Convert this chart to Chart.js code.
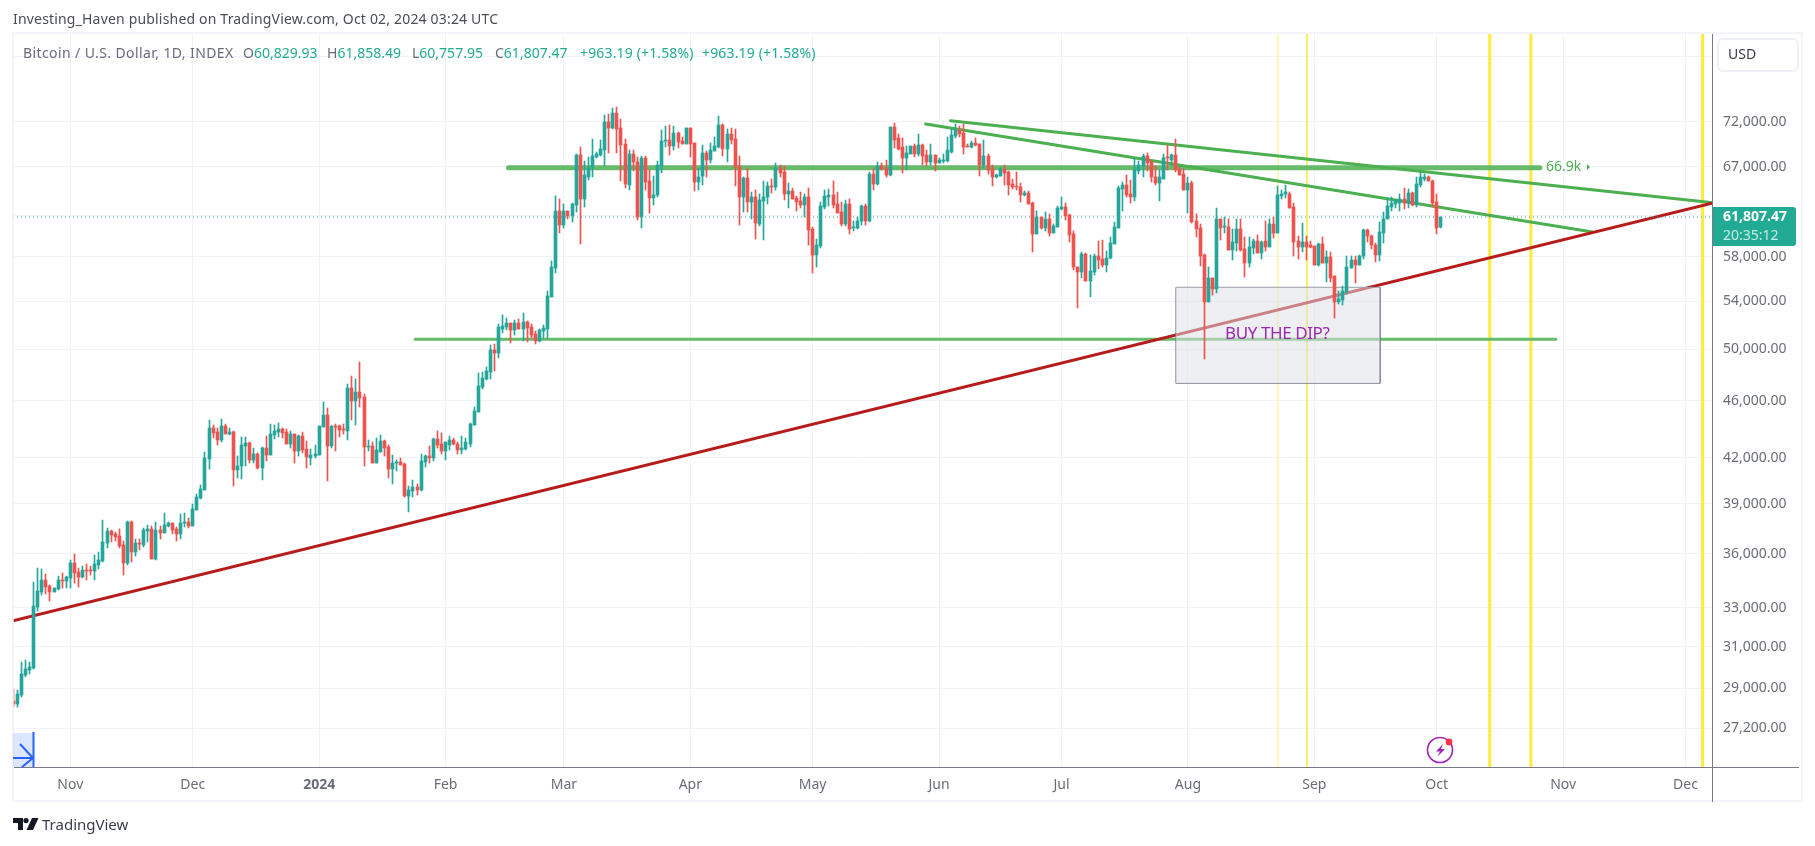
<!DOCTYPE html>
<html><head><meta charset="utf-8">
<script src="https://cdn.jsdelivr.net/npm/chart.js@4"></script>
<style>
html,body{margin:0;padding:0;background:#fff;width:1815px;height:846px;overflow:hidden}
body{font-family:"Noto Sans",sans-serif;position:relative}
canvas{position:absolute;left:0;top:0}
.t{position:absolute;white-space:nowrap;line-height:1}
.box{position:absolute}
svg{position:absolute;overflow:visible}
</style></head><body>
<canvas id="c" width="1815" height="846"></canvas>
<div class="box" style="left:12px;top:32px;width:1787px;height:766px;border:2px solid rgba(240,243,250,.8)"></div>
<div class="box" style="left:1712px;top:34px;width:1px;height:768px;background:#787b86"></div>
<div class="box" style="left:14px;top:767px;width:1785px;height:1px;background:#787b86"></div>

<div class="t" style="left:13px;top:12px;font-size:14px;letter-spacing:.18px;color:#4a4d58" id="title">Investing_Haven published on TradingView.com, Oct 02, 2024 03:24 UTC</div>
<div class="t" style="left:23px;top:46px;font-size:14px;letter-spacing:.4px;color:#6a6d78">Bitcoin / U.S. Dollar, 1D, INDEX</div>
<div class="t hl" style="left:243px;top:46px;font-size:14px;color:#6a6d78">O<span style="color:#22ab94">60,829.93</span></div>
<div class="t hl" style="left:327px;top:46px;font-size:14px;color:#6a6d78">H<span style="color:#22ab94">61,858.49</span></div>
<div class="t hl" style="left:412px;top:46px;font-size:14px;color:#6a6d78">L<span style="color:#22ab94">60,757.95</span></div>
<div class="t hl" style="left:495px;top:46px;font-size:14px;color:#6a6d78">C<span style="color:#22ab94">61,807.47</span></div>
<div class="t hl" style="left:580px;top:46px;font-size:14px;letter-spacing:.15px;color:#22ab94">+963.19 (+1.58%)</div>
<div class="t hl" style="left:702px;top:46px;font-size:14px;letter-spacing:.15px;color:#22ab94">+963.19 (+1.58%)</div>

<div class="box" style="left:1717px;top:38px;width:78px;height:30px;border:2px solid #eef0f5;border-radius:6px;background:#fff"></div>
<div class="t" style="left:1728px;top:47px;font-size:14px;color:#3a3d48">USD</div>

<div class="box" style="left:1713px;top:207px;width:83px;height:39px;background:#22ab94;border-radius:0 3px 3px 0"></div>
<div class="t" style="left:1723px;top:209px;font-size:14px;font-weight:700;color:#fff">61,807.47</div>
<div class="t" style="left:1723px;top:228px;font-size:14px;color:#c5ebe4">20:35:12</div>

<div class="t" style="left:1546px;top:159px;font-size:14px;color:#4caf50">66.9k</div>
<svg style="left:1587px;top:164px" width="4" height="6"><path d="M0 0L3 3L0 6Z" fill="#4caf50"/></svg>
<div class="t" style="left:1225px;top:324px;font-size:17px;letter-spacing:-.4px;color:#9c27b0">BUY THE DIP?</div>

<svg style="left:13px;top:733px" width="21" height="34">
<rect x="0" y="0" width="20" height="34" fill="#2962ff" fill-opacity=".16"/>
<path d="M20.5 -1V34M0 25H20M7 11L20 25L9 34" stroke="#2962ff" stroke-width="2" fill="none"/>
</svg>
<svg style="left:1427px;top:737px" width="27" height="27">
<circle cx="13" cy="13" r="12.5" fill="#fff" stroke="#9c27b0" stroke-width="1.6"/>
<path d="M16 7L9 14.5H13L10.5 19.5L18 12H14Z" fill="#9c27b0"/>
<circle cx="22" cy="5" r="3.4" fill="#f23645"/>
</svg>
<svg style="left:13px;top:818px" width="26" height="13">
<path d="M0 0H10V12H5V5H0Z" fill="#131722"/><circle cx="13" cy="2.6" r="2.6" fill="#131722"/><path d="M19 0H25.5L20 12H13.5Z" fill="#131722"/>
</svg>
<div class="t" style="left:42px;top:817px;font-size:15px;color:#3a3d48">TradingView</div>

<script>
// ---------- values ----------
const firstDay = -75; // days relative to 1 Jan 2024 (18 Oct 2023)
const opens = [
28410,28275,28700,29620,29860,29955,33050,33845,34505,34175,
33845,34010,34505,34450,34615,35460,34950,34670,35064,35064,
35010,35350,35575,36620,37330,37150,37030,36500,35460,37875,
36090,36620,36500,37330,37450,35690,37390,37210,37630,37810,
37450,37150,37810,37875,37630,38610,39360,39870,41905,44045,
43765,43205,44190,43625,43765,41175,41440,42795,43000,41840,
42250,41305,42655,42180,43555,43765,43975,43765,42930,43625,
42450,43485,42585,41975,42110,42180,44120,44975,42790,44190,
44190,43975,43835,46950,46000,46650,46270,42720,42790,41640,
42380,43135,42720,41240,41640,41710,41575,39490,39810,40065,
39890,41730,42130,41995,43300,42950,
42470,42880,43220,42950,42540,42610,42950,44290,45220,47025,47680,48215,49950,49710,51660,51830,52160,51580,52160,51660,52245,51830,51245,50680,51500,51660,54390,56980,62445,
61050,62445,61950,63050,68320,63660,65880,67030,68100,68320,68830,72040,71340,73090,71340,69480,65070,68430,67560,61845,67900,65525,63760,64070,67120,69870,69980,69325,70780,69870,69480,
71340,69650,65420,65985,68540,67770,68760,69210,71690,68980,70670,70100,67120,63870,65850,63350,63870,61155,63450,63870,65000,64895,66900,66480,64180,64480,63760,63450,63050,63870,
60660,58180,59040,62850,63870,64070,63150,62345,61155,63150,60760,60760,61450,62950,61450,66260,65210,67120,66900,66160,71460,70220,69210,67900,68430,69325,68430,69400,68320,67560,68320,
67450,67660,67660,68650,70450,71120,70780,69325,69210,69650,69480,67220,68210,66800,65880,66060,66800,66480,65210,65000,64895,64070,64280,63250,60180,61845,60760,61645,60275,60860,
62650,62850,62040,60180,57070,56620,58280,55800,56620,58090,57810,57250,57910,59220,60760,64690,65070,64180,63870,66590,67120,68210,67560,65880,65320,65730,68000,67770,68320,66800,66260,
64590,65320,61450,60760,58180,53950,56070,55080,61645,60860,60860,58650,59320,60660,58750,57440,58850,59510,58370,59510,58940,61155,60275,63970,64180,64180,62850,59510,58940,59410,59130,
59040,57250,59220,57440,58000,56250,53950,54110,54820,56980,57720,57250,58090,60565,60000,59130,58180,60275,61645,62850,63150,63250,63660,63250,64280,63050,65070,65730,65880,65525,
63350,60829.93];
const highs = [
28960,28917,30250,30345,30250,34395,35175,35120,34840,34230,
34065,34730,34895,34730,35630,35975,35175,35290,35405,35290,
35920,36090,37997,37510,37390,37270,37450,36735,37935,37935,
36855,36855,37510,37690,37630,37875,37630,38425,37875,37810,
37570,38365,38425,38120,38990,39620,40195,42380,44615,44260,
44045,44690,44330,44045,43835,42110,43415,43415,43070,42655,
42315,42720,43485,44330,44260,44405,44045,43975,43835,43625,
43555,43765,43135,42585,42860,44190,45925,45485,44190,44330,
44260,44330,47240,47870,47640,48970,46500,43205,43070,43345,
43555,43205,42860,42180,41840,41975,41640,40130,40520,40260,
42225,42200,42810,43370,43860,43720,
43090,43500,43370,43090,43500,43370,44430,45590,48150,48210,48590,50350,50430,52075,52830,52580,52160,52410,52500,53000,52330,52075,51500,51660,52000,54910,57625,63970,63660,
63150,62445,63250,68430,69210,67660,68100,70100,68650,69980,72850,72960,73680,73800,72390,70100,68830,68830,68100,68210,68210,66700,66060,67660,71120,71570,71690,71570,70890,70330,71340,
71340,69650,66900,69400,68760,69650,70330,72730,71810,71230,71340,71230,68210,65950,66900,64380,64590,64180,65525,65420,65730,67450,67220,67120,65320,64790,63970,64380,64180,64790,
60860,59700,63350,64590,64690,65525,64380,63350,63560,63660,61450,61845,63050,63150,66480,66800,67560,67450,67770,71460,71930,70670,70220,69325,69325,69480,70670,69480,68830,69480,68320,
67900,68430,70330,71340,71810,71570,71810,69480,69870,70220,69480,69980,68430,67220,66260,66900,67220,66590,65730,66480,65320,64480,64480,63350,62445,61845,62345,62140,61155,62950,
63870,63250,62140,60470,57070,58460,58370,58180,58280,59510,59600,58560,59890,61350,65000,65420,66160,65630,67900,67660,68430,68540,67770,67120,66700,68430,69400,68430,70100,67000,66800,
65880,65525,62140,61155,58280,57070,56070,62750,61645,61845,61645,60660,61645,61645,59890,59890,59700,60080,59510,61450,61645,61845,65000,64590,65070,64380,63250,60000,61250,60000,59510,
59040,59320,59890,58560,58460,56250,54910,55350,58090,58090,58090,58180,60660,60660,60080,59320,61350,62345,63760,63870,63560,64180,64790,64690,64380,65950,66480,66260,66060,65630,
64180,61858.49];
const lows = [
28150,28150,28610,29510,29670,29910,32850,33680,33735,33360,
33845,33955,34065,34065,34065,34340,34120,34615,34505,34785,
34505,35120,35520,36325,36675,36735,36325,34785,35350,35520,
35860,36210,36380,36675,35690,35630,36855,37210,37570,37150,
36735,36855,37570,37510,37630,38610,39300,39870,41240,43345,
42860,43070,43625,43555,40130,40650,40585,41440,41640,41640,
41240,40520,41775,42180,43275,43415,43345,42930,42655,41640,
42110,42315,41305,41510,41975,42180,44120,40450,42655,42450,
43415,43625,43205,44615,44260,45560,41440,42450,41640,41640,
42380,42110,40650,40260,41105,41510,39430,38490,39430,39560,
39800,41390,41665,41800,42680,42270,
41865,42540,42880,42270,42270,42540,42750,44290,45220,46915,47600,47680,48290,49310,51330,51580,50510,51160,51660,50680,50600,50930,50430,50600,50900,50900,54390,56525,60275,
60760,61645,61350,62345,59220,62850,65630,65880,68000,68210,67120,68540,71230,68540,65520,64790,64590,66590,61540,60760,64590,62245,63050,63870,66380,69210,68320,68830,69060,69480,69480,
68100,64480,64590,65070,65880,67450,68760,69100,68210,67560,69480,64930,61050,62345,62345,61645,59700,60960,59600,63150,64280,64590,65950,63560,62750,63660,62445,62750,61845,59130,
56525,57000,58850,62650,62950,62750,62245,60960,60960,60180,60470,60660,61050,61050,61350,64590,65070,66700,65880,65985,69100,68830,66380,66700,68430,68100,68210,67220,67120,67220,66590,
67450,67450,67560,68540,70220,70330,68430,69210,69100,69325,66060,66900,66260,65000,65850,66060,65070,64070,64690,64590,63350,63970,63150,58460,60180,60660,60470,60000,60275,60860,
62550,61540,59410,56800,53430,56070,55800,54390,56340,56890,57070,56620,57810,59220,60760,62445,63870,63250,63450,66260,65950,66590,65420,65070,63450,65730,66700,67120,66480,66160,64590,
62245,61250,59890,57160,49230,53950,54560,54740,59600,60275,58650,57720,58560,58560,56160,57070,58280,58370,57810,58560,58940,59790,60275,63660,63760,62750,58090,57810,58460,57720,58850,
57250,57160,57440,55720,55720,52570,53770,53690,54650,56980,55630,57250,57810,59410,58750,57530,57620,59320,61645,62445,62750,62445,62650,62750,62950,62850,64895,65525,65525,62850,
60180,60757.95];
const closes = [
28275,28720,29670,29910,30005,33090,33900,34505,34120,33845,
34065,34505,34450,34670,35460,34895,34670,35064,35010,35010,
35405,35632,36675,37330,37090,36975,36440,35460,37875,36090,
36620,36560,37390,37450,35690,37390,37210,37690,37810,37390,
37150,37810,37875,37630,38675,39425,39935,41975,44045,43690,
43205,44190,43625,43765,41175,41440,42860,43000,41840,42250,
41305,42655,42180,43625,43835,43975,43695,42930,43625,42450,
43485,42520,42045,42180,42250,44190,44975,42790,44190,44120,
43905,43905,46950,46000,46650,46220,42720,42790,41640,42520,
43135,42655,41240,41640,41710,41510,39490,39870,40065,39870,
41790,42130,41995,43300,42880,42470,
43090,43220,42950,42540,42680,43090,44360,45290,47130,47730,48290,49950,49710,51830,51910,52160,51580,52160,51660,52245,51745,51160,50680,51580,51745,54470,57070,62445,61050,
62445,61950,63150,68320,63660,66160,66900,68210,68430,68940,72040,71340,73090,71230,69400,65210,68430,67560,61845,67900,65420,63760,64070,67220,69870,69980,69325,70780,69760,69480,71340,
69480,65420,65950,68540,67770,68830,69325,71690,68980,70670,69980,66970,63870,65850,63350,63870,61250,63560,63870,65000,64895,66900,66380,64180,64480,63660,63350,63050,63870,60565,
58180,59130,62950,63970,64070,63050,62245,61155,63150,60660,60860,61450,62950,61450,66260,65210,67120,66800,66160,71460,69980,68980,67900,68540,69325,68430,69400,68210,67560,68320,67450,
67770,67770,68830,70560,71120,70670,69210,69210,69650,69400,67220,68210,66700,65880,66160,66800,66380,65070,64895,64895,64070,64280,63150,60180,61845,60760,61645,60275,60960,62750,
62850,61950,60080,57000,56620,58280,55800,56710,58090,57720,57250,57910,59320,60860,64790,65070,64070,63870,66700,67220,68210,67450,65950,65320,65950,68000,67900,68320,66700,66160,64590,
65320,61350,60660,58090,53950,56070,55080,61645,60760,60960,58650,59410,60660,58650,57440,58940,59510,58370,59410,58940,61155,60275,64070,64180,64380,62750,59410,58940,59410,58940,58940,
57250,59220,57440,58000,56070,53950,54200,54910,57070,57720,57250,58090,60565,60000,59130,58180,60370,61645,62950,63250,63560,63660,63250,64280,63050,65210,65950,65880,65525,63250,
60760,61807.47];

const yTicks = [80000,72000,67000,62000,58000,54000,50000,46000,42000,39000,36000,33000,31000,29000,27200];
const yTicksWithoutLabel = [80000,62000];
const monthDays   = [-61,-31,0,31,60,91,121,152,182,213,244,274,305,335];
const monthLabels = ['Nov','Dec','2024','Feb','Mar','Apr','May','Jun','Jul','Aug','Sep','Oct','Nov','Dec'];

const lastClose = 61807.47;
const resistanceLevel = 66900, resistanceDays = [46.4,299.3];
const supportLevel = 50790, supportDays = [23.55,303.2];
const redTrendDays = [-75.06,341.5], redTrendPrices = [32310,63190];
const upperTrendDays = [154.8,341.2], upperTrendPrices = [72150,63260];
const lowerTrendDays = [148.7,312.2], lowerTrendPrices = [71770,60340];
const boxDays = [210.06,260.1], boxPrices = [55210,47320];
const thinYellowDays = [235.1], midYellowDays = [242.2], thickYellowDays = [287.0,297.1,339.2];

// ---------- chart ----------
const up='#26a69a', down='#ef5350';
const days = opens.map((_,i)=>firstDay+i);
const colors = opens.map((o,i)=>closes[i]>=o?up:down);
const Y_MIN=25552, Y_MAX=82930, X_MIN=-75.06, X_MAX=341.5;
const seg=(d,p,opt)=>Object.assign({type:'line',data:d.map((x,i)=>({x,y:p[i]})),pointRadius:0,tension:0,fill:false,borderCapStyle:'round'},opt);
const vline=(x,w,c,order)=>seg([x,x],[Y_MIN,Y_MAX],{borderColor:c,borderWidth:w,order,borderCapStyle:'butt'});

const datasets=[
  ...thinYellowDays.map(x=>vline(x,1,'#fff176',9)),
  ...midYellowDays.map(x=>vline(x,1.6,'#ffeb3b',9)),
  ...thickYellowDays.map(x=>vline(x,3,'#ffeb3b',9)),
  seg(resistanceDays,[resistanceLevel,resistanceLevel],{borderColor:'#66bb6a',borderWidth:5,order:8}),
  seg(supportDays,[supportLevel,supportLevel],{borderColor:'#66bb6a',borderWidth:3,order:8}),
  seg(redTrendDays,redTrendPrices,{borderColor:'#b71c1c',borderWidth:3,order:7}),
  seg(upperTrendDays,upperTrendPrices,{borderColor:'#4caf50',borderWidth:3,order:7}),
  seg(lowerTrendDays,lowerTrendPrices,{borderColor:'#4caf50',borderWidth:3,order:7}),
  seg([X_MIN,X_MAX],[lastClose,lastClose],{borderColor:'#26a69a',borderWidth:1,borderDash:[1,3],order:6,borderCapStyle:'butt'}),
  seg(boxDays,[boxPrices[0],boxPrices[0]],{borderColor:'rgba(0,0,0,0)',borderWidth:0,backgroundColor:'rgba(222,224,232,.52)',fill:{value:boxPrices[1]},order:5}),
  seg([boxDays[0],boxDays[1],boxDays[1],boxDays[0],boxDays[0]],[boxPrices[0],boxPrices[0],boxPrices[1],boxPrices[1],boxPrices[0]],{borderColor:'#787b86',borderWidth:1,order:5,borderCapStyle:'butt'}),
  {type:'bar',grouped:false,order:3,barThickness:1,minBarLength:1,
   data:days.map((x,i)=>({x,y:[lows[i],highs[i]]})),backgroundColor:colors},
  {type:'bar',grouped:false,order:2,barThickness:3,minBarLength:1,
   data:days.map((x,i)=>({x,y:[Math.min(opens[i],closes[i]),Math.max(opens[i],closes[i])]})),backgroundColor:colors}
];

const snap={id:'snap',afterDatasetsUpdate(chart){
  chart.getSortedVisibleDatasetMetas().forEach(m=>{
    if(m.type!=='bar')return;
    m.data.forEach(el=>{
      el.x=Math.floor(el.x)+.5;
      el.y=Math.round(el.y);el.base=Math.round(el.base);
      if(el.y===el.base)el.base=el.y+1;
      el.height=el.base-el.y;
    });
  });
}};

new Chart(document.getElementById('c'),{
  type:'bar',
  data:{datasets},
  plugins:[snap],
  options:{
    responsive:false,animation:false,devicePixelRatio:1,
    layout:{padding:{left:13,top:34,right:12,bottom:43}},
    plugins:{legend:{display:false},tooltip:{enabled:false},title:{display:false}},
    scales:{
      x:{type:'linear',min:X_MIN,max:X_MAX,offset:false,
        afterBuildTicks(s){s.ticks=monthDays.map(v=>({value:v}));},
        afterFit(s){s.height=36;},
        grid:{color:'#f0f3fa',lineWidth:1,drawTicks:false,offset:false},border:{display:false},
        ticks:{autoSkip:false,maxRotation:0,padding:10,color:'#6a6d78',
          font:c=>({family:'"Noto Sans"',size:14,weight:c.tick&&c.tick.value===0?'bold':'normal'}),
          callback:v=>monthLabels[monthDays.indexOf(v)]||''}
      },
      y:{type:'logarithmic',position:'right',min:Y_MIN,max:Y_MAX,
        afterBuildTicks(s){s.ticks=yTicks.map(v=>({value:v}));},
        afterFit(s){s.width=91;},
        grid:{color:'#f0f3fa',lineWidth:1,drawTicks:false},border:{display:false},
        ticks:{autoSkip:false,padding:11,color:'#6a6d78',font:{family:'"Noto Sans"',size:14},
          callback:v=>yTicksWithoutLabel.includes(v)?'':v.toLocaleString('en-US',{minimumFractionDigits:2,maximumFractionDigits:2})}
      }
    }
  }
});
</script>
</body></html>
